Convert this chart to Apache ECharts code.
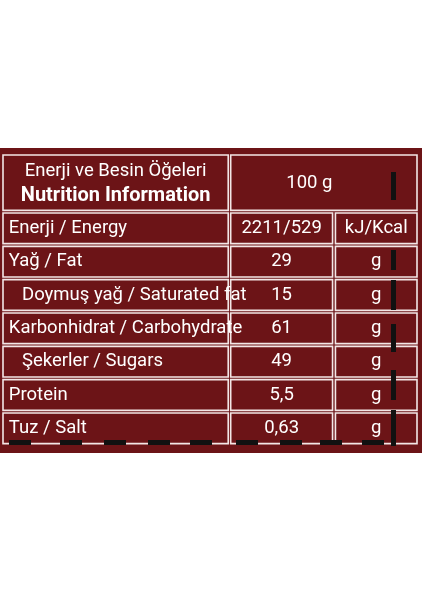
<!DOCTYPE html><html><head><meta charset="utf-8">
<script src="https://cdn.jsdelivr.net/npm/echarts@6/dist/echarts.min.js"></script>
<style>html,body{margin:0;padding:0;background:#fff}#c{width:424px;height:600px}</style></head><body><div id="c"></div>
<script>
const headerLines = ['Enerji ve Besin Öğeleri', 'Nutrition Information'];
const headerAmount = '100 g';
const nutrients = ['Enerji / Energy','Yağ / Fat','Doymuş yağ / Saturated fat','Karbonhidrat / Carbohydrate','Şekerler / Sugars','Protein','Tuz / Salt'];
const amounts = ['2211/529','29','15','61','49','5,5','0,63'];
const units = ['kJ/Kcal','g','g','g','g','g','g'];
const indented = [false,false,true,false,true,false,false];

const FONT = 'Roboto,"Noto Sans",sans-serif';
const BG = '#6c1417', LINE = '#f3e6e6';
const H = 1.7;
const cols = [0, 54.4, 55.0, 79.6, 80.3, 100];

function cell(api, x0, x1, y0, y1) {
  const p0 = api.coord([x0, y0]), p1 = api.coord([x1, y1]);
  return {type:'rect', shape:{x:p0[0], y:p0[1], width:p1[0]-p0[0], height:p1[1]-p0[1]},
    style:{fill:BG, stroke:LINE, lineWidth:1.6}};
}
function txt(api, x, y, s, align, bold) {
  const p = api.coord([x, y]);
  return {type:'text', x:p[0], y:p[1], style:{text:s, fill:'#fff', font:(bold?'bold 20px ':'18.5px ')+FONT, align:align, verticalAlign:'middle'}};
}
const data = [{value:[0,-1]}].concat(nutrients.map((n,i)=>({value:[0,i]})));
const chart = echarts.init(document.getElementById('c'));
chart.setOption({
  backgroundColor:'#fff',
  graphic:[{type:'rect', left:0, top:148, shape:{width:422, height:305}, style:{fill:BG}, z:-1}]
    .concat([9,60,104,148,190,236,280,320,362].map(x=>({type:'rect', left:x, top:440, shape:{width:22,height:5}, style:{fill:'#111'}, z:10})))
    .concat([[172,28],[250,20],[280,30],[324,28],[370,30],[410,36]].map(a=>({type:'rect', left:391, top:a[0], shape:{width:5,height:a[1]}, style:{fill:'#111'}, z:10}))),
  grid:{left:3, right:7, top:155, bottom:155},
  xAxis:{type:'value', min:0, max:100, show:false},
  yAxis:{type:'value', min:0, max:H+nutrients.length, inverse:true, show:false},
  series:[{type:'custom', data:data, renderItem:function(params, api){
    const r = api.value(1);
    const g = 0.04;
    if (r < 0) {
      return {type:'group', children:[
        cell(api, cols[0], cols[1], 0, H-g),
        cell(api, cols[2], cols[5], 0, H-g),
        txt(api, (cols[0]+cols[1])/2, 0.5, headerLines[0], 'center', false),
        txt(api, (cols[0]+cols[1])/2, 1.22, headerLines[1], 'center', true),
        txt(api, 74, 0.85, headerAmount, 'center', false)
      ]};
    }
    const y0 = H + r + g, y1 = H + r + 1 - g, ym = (y0+y1)/2;
    return {type:'group', children:[
      cell(api, cols[0], cols[1], y0, y1),
      cell(api, cols[2], cols[3], y0, y1),
      cell(api, cols[4], cols[5], y0, y1),
      txt(api, indented[r]?4.6:1.4, ym, nutrients[r], 'left', false),
      txt(api, (cols[2]+cols[3])/2, ym, amounts[r], 'center', false),
      txt(api, (cols[4]+cols[5])/2, ym, units[r], 'center', false)
    ]};
  }}]
});
</script></body></html>
